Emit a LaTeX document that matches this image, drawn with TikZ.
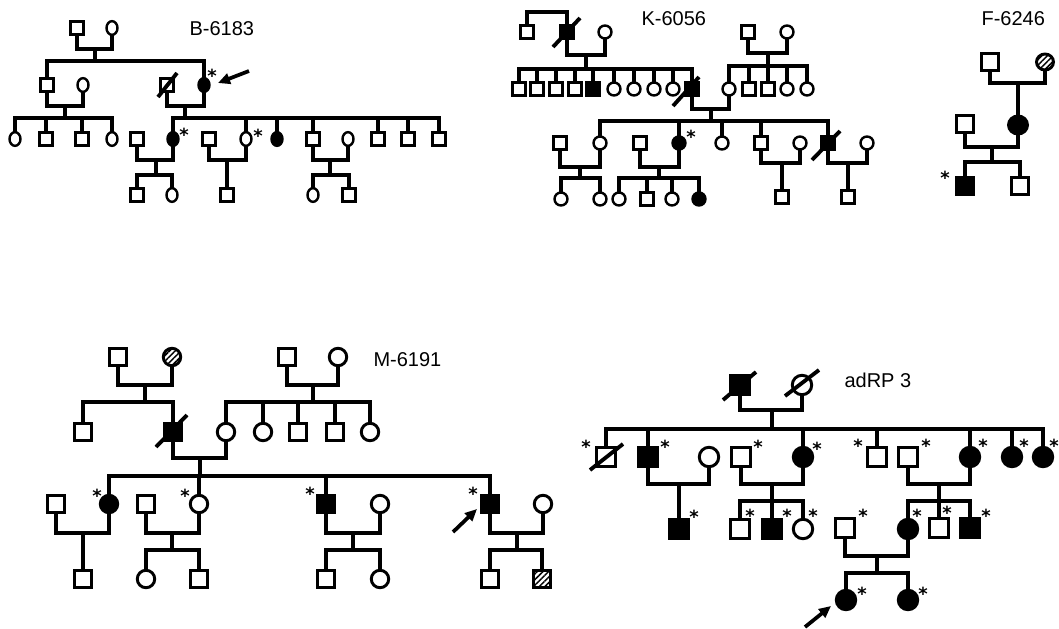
\documentclass[tikz,border=0pt]{standalone}
\usepackage{fontspec}
\setmainfont{Liberation Sans}
\newfontfamily\starfont{DejaVu Sans}
\usetikzlibrary{shapes.geometric,arrows.meta,patterns.meta}
\tikzset{
  ind/.style={draw, line width=\olw, inner sep=0pt, outer sep=0pt, fill=white},
  ma/.style={ind, rectangle, minimum width=\sqs, minimum height=\sqs},
  fe/.style={ind, ellipse, minimum width=\ciw, minimum height=\cih},
  aff/.style={fill=black},
  hat/.style={pattern={Lines[angle=45,distance=3pt,line width=1.1pt]}},
  star/.style={font=\starfont\bfseries\fontsize{13.5pt}{14pt}\selectfont, inner sep=0pt, yshift=-2.6pt},
  lab/.style={font=\fontsize{15pt}{18pt}\selectfont, inner sep=0pt, anchor=base west},
  arw/.style={line width=2.8pt, -{Triangle[length=9pt,width=8pt]}},
  dead/.style={line width=2.9pt},
  conn/.style={line width=2.3pt}
}
\def\olw{2pt}
\begin{document}
\begin{tikzpicture}[x=0.75pt,y=-0.75pt,every path/.append style={line width=2.3pt}]
\fill[white] (0,0) rectangle (1059,628);
\useasboundingbox (0,0) rectangle (1059,628);

% ================= B-6183 =================
\begin{scope}[conn]
\def\olw{1.8pt}
\def\sqs{9.5pt}\def\ciw{8.25pt}\def\cih{10.25pt}
\node[lab] (bl) at (188,35) {B-6183};
\node[ma] (b1) at (77,28) {};
\node[fe] (b2) at (112,28) {};
\node[ma] (b3) at (47,85) {};
\node[fe] (b5) at (83,85) {};
\node[ma] (b6) at (167,85) {};
\node[fe,aff] (b4) at (204,85) {};
\node[fe] (b7) at (15,139) {};
\node[ma] (b8) at (46,139) {};
\node[ma] (b9) at (82,139) {};
\node[fe] (b10) at (112,139) {};
\node[ma] (b18) at (137,139) {};
\node[fe,aff] (b11) at (173,139) {};
\node[ma] (b19) at (209,139) {};
\node[fe] (b12) at (246,139) {};
\node[fe,aff] (b13) at (277,139) {};
\node[ma] (b14) at (313,139) {};
\node[fe] (b20) at (348,139) {};
\node[ma] (b15) at (378,139) {};
\node[ma] (b16) at (408,139) {};
\node[ma] (b17) at (439,139) {};
\node[ma] (b21) at (137,195) {};
\node[fe] (b22) at (172,195) {};
\node[ma] (b23) at (227,195) {};
\node[fe] (b24) at (313,195) {};
\node[ma] (b25) at (349,195) {};
\coordinate (bm1) at (95,49); \coordinate (bs1) at (95,61);
\coordinate (bm2) at (65,106); \coordinate (bs2) at (65,118);
\coordinate (bm3) at (185,106); \coordinate (bs3) at (185,118);
\coordinate (bm4) at (156,160); \coordinate (bs4) at (156,175);
\coordinate (bm5) at (227,160);
\coordinate (bm6) at (330,160); \coordinate (bs6) at (330,175);
\draw[conn] (b1.south) |- (bm1) -| (b2.south); \draw[conn] (bm1) -- (bs1);
\draw[conn] (b3.north) |- (bs1) -| (b4.north);
\draw[conn] (b3.south) |- (bm2) -| (b5.south); \draw[conn] (bm2) -- (bs2);
\draw[conn] (b7.north) |- (bs2) -| (b10.north);
\foreach \k in {b8,b9} \draw[conn] (\k.north) -- (\k.north |- bs2);
\draw[conn] (b6.south) |- (bm3) -| (b4.south); \draw[conn] (bm3) -- (bs3);
\draw[conn] (b11.north) |- (bs3) -| (b17.north);
\foreach \k in {b12,b13,b14,b15,b16} \draw[conn] (\k.north) -- (\k.north |- bs3);
\draw[conn] (b18.south) |- (bm4) -| (b11.south); \draw[conn] (bm4) -- (bs4);
\draw[conn] (b21.north) |- (bs4) -| (b22.north);
\draw[conn] (b19.south) |- (bm5) -| (b12.south); \draw[conn] (bm5) -- (b23.north);
\draw[conn] (b14.south) |- (bm6) -| (b20.south); \draw[conn] (bm6) -- (bs6);
\draw[conn] (b24.north) |- (bs6) -| (b25.north);
\draw[dead] ([shift={(-9,12)}]b6.center) -- ([shift={(10,-12)}]b6.center);
\node[star] (bst1) at (212,72) {*};
\node[star] (bst2) at (184,131) {*};
\node[star] (bst3) at (258,132) {*};
\coordinate (ba0) at (249,71); \coordinate (ba1) at (218,83);
\draw[arw] (ba0) -- (ba1);
\end{scope}

% ================= K-6056 =================
\begin{scope}[conn]
\def\olw{1.8pt}
\def\sqs{9.5pt}\def\ciw{9.75pt}\def\cih{9.75pt}
\node[lab] (kl) at (640,25) {K-6056};
\node[ma] (k1) at (527,32) {};
\node[ma,aff] (k2) at (567,32) {};
\node[fe] (k3) at (605,32) {};
\node[ma] (k4) at (519,89) {};
\node[ma] (k5) at (537,89) {};
\node[ma] (k6) at (556,89) {};
\node[ma] (k7) at (575,89) {};
\node[ma,aff] (k8) at (593,89) {};
\node[fe] (k9) at (614,89) {};
\node[fe] (k10) at (634,89) {};
\node[fe] (k11) at (654,89) {};
\node[fe] (k12) at (673,89) {};
\node[ma,aff] (k13) at (692,89) {};
\node[ma] (k15) at (748,32) {};
\node[fe] (k16) at (787,32) {};
\node[fe] (k14) at (729,89) {};
\node[ma] (k17) at (749,89) {};
\node[ma] (k18) at (768,89) {};
\node[fe] (k19) at (787,89) {};
\node[fe] (k20) at (807,89) {};
\node[ma] (k28) at (560,143) {};
\node[fe] (k21) at (600,143) {};
\node[ma] (k29) at (640,143) {};
\node[fe,aff] (k22) at (679,143) {};
\node[fe] (k23) at (722,143) {};
\node[ma] (k24) at (761,143) {};
\node[fe] (k26) at (800,143) {};
\node[ma,aff] (k25) at (828,143) {};
\node[fe] (k27) at (867,143) {};
\node[fe] (k30) at (561,199) {};
\node[fe] (k31) at (600,199) {};
\node[fe] (k32) at (619,199) {};
\node[ma] (k33) at (647,199) {};
\node[fe] (k34) at (672,199) {};
\node[fe,aff] (k35) at (699,199) {};
\node[ma] (k36) at (782,197) {};
\node[ma] (k37) at (848,197) {};
\coordinate (kS0) at (567,12);
\coordinate (km1) at (586,55); \coordinate (ks1) at (586,69);
\coordinate (km2) at (768,53); \coordinate (ks2) at (768,66);
\coordinate (km3) at (711,109); \coordinate (ks3) at (711,121);
\coordinate (km4) at (580,167); \coordinate (ks4) at (580,178);
\coordinate (km5) at (659,167); \coordinate (ks5) at (659,178);
\coordinate (km6) at (782,163);
\coordinate (km7) at (848,163);
\draw[conn] (k1.north) |- (kS0) -- (k2.north);
\draw[conn] (k2.south) |- (km1) -| (k3.south); \draw[conn] (km1) -- (ks1);
\draw[conn] (k4.north) |- (ks1) -| (k13.north);
\foreach \k in {k5,k6,k7,k8,k9,k10,k11,k12} \draw[conn] (\k.north) -- (\k.north |- ks1);
\draw[conn] (k15.south) |- (km2) -| (k16.south); \draw[conn] (km2) -- (ks2);
\draw[conn] (k14.north) |- (ks2) -| (k20.north);
\foreach \k in {k17,k18,k19} \draw[conn] (\k.north) -- (\k.north |- ks2);
\draw[conn] (k13.south) |- (km3) -| (k14.south); \draw[conn] (km3) -- (ks3);
\draw[conn] (k21.north) |- (ks3) -| (k25.north);
\foreach \k in {k22,k23,k24} \draw[conn] (\k.north) -- (\k.north |- ks3);
\draw[conn] (k28.south) |- (km4) -| (k21.south); \draw[conn] (km4) -- (ks4);
\draw[conn] (k30.north) |- (ks4) -| (k31.north);
\draw[conn] (k29.south) |- (km5) -| (k22.south); \draw[conn] (km5) -- (ks5);
\draw[conn] (k32.north) |- (ks5) -| (k35.north);
\foreach \k in {k33,k34} \draw[conn] (\k.north) -- (\k.north |- ks5);
\draw[conn] (k24.south) |- (km6) -| (k26.south); \draw[conn] (km6) -- (k36.north);
\draw[conn] (k25.south) |- (km7) -| (k27.south); \draw[conn] (km7) -- (k37.north);
\draw[dead] ([shift={(-14,15)}]k2.center) -- ([shift={(13,-14)}]k2.center);
\draw[dead] ([shift={(-19,17)}]k13.center) -- ([shift={(7,-12)}]k13.center);
\draw[dead] ([shift={(-16,17)}]k25.center) -- ([shift={(12,-12)}]k25.center);
\node[star] (kst1) at (691,133) {*};
\end{scope}

% ================= F-6246 =================
\begin{scope}[conn]
\def\olw{2.2pt}
\def\sqs{12.4pt}\def\ciw{12.75pt}\def\cih{12pt}
\node[lab] (fl) at (980,25) {F-6246};
\node[ma] (f1) at (990,62) {};
\node[fe,hat] (f2) at (1045,62) {};
\node[fe,aff,minimum width=14.25pt,minimum height=13.5pt] (f3) at (1018,125) {};
\node[ma] (f4) at (965,124) {};
\node[ma,aff] (f5) at (965,186) {};
\node[ma] (f6) at (1020,186) {};
\coordinate (fm1) at (1018,83);
\coordinate (fm2) at (992,147); \coordinate (fs2) at (992,162);
\draw[conn] (f1.south) |- (fm1) -| (f2.south); \draw[conn] (fm1) -- (f3.north);
\draw[conn] (f4.south) |- (fm2) -| (f3.south); \draw[conn] (fm2) -- (fs2);
\draw[conn] (f5.north) |- (fs2) -| (f6.north);
\node[star] (fst1) at (945,174) {*};
\end{scope}

% ================= M-6191 =================
\begin{scope}[conn]
\def\olw{2.2pt}
\def\sqs{12.75pt}\def\ciw{13.1pt}\def\cih{13.1pt}
\node[lab] (ml) at (372,366) {M-6191};
\node[ma] (m1) at (118,357) {};
\node[fe,hat] (m2) at (172,357) {};
\node[ma] (m5) at (287,357) {};
\node[fe] (m6) at (338,357) {};
\node[ma] (m3) at (83,432) {};
\node[ma,aff] (m4) at (173,432) {};
\node[fe] (m7) at (226,432) {};
\node[fe] (m8) at (263,432) {};
\node[ma] (m9) at (298,432) {};
\node[ma] (m10) at (335,432) {};
\node[fe] (m11) at (370,432) {};
\node[ma] (m16) at (56,504) {};
\node[fe,aff] (m12) at (109,504) {};
\node[ma] (m17) at (146,504) {};
\node[fe] (m13) at (199,504) {};
\node[ma,aff] (m14) at (326,504) {};
\node[fe] (m18) at (380,504) {};
\node[ma,aff] (m15) at (490,504) {};
\node[fe] (m19) at (543,504) {};
\node[ma] (m20) at (83,579) {};
\node[fe] (m21) at (146,579) {};
\node[ma] (m22) at (199,579) {};
\node[ma] (m23) at (326,579) {};
\node[fe] (m24) at (380,579) {};
\node[ma] (m25) at (490,579) {};
\node[ma,hat] (m26) at (542,579) {};
\coordinate (mm1) at (145,385); \coordinate (ms1) at (145,402);
\coordinate (mm2) at (313,385); \coordinate (ms2) at (313,402);
\coordinate (mm3) at (200,458); \coordinate (ms3) at (200,476);
\coordinate (mm4) at (83,533);
\coordinate (mm5) at (172,533); \coordinate (ms5) at (172,550);
\coordinate (mm6) at (353,533); \coordinate (ms6) at (353,550);
\coordinate (mm7) at (517,533); \coordinate (ms7) at (517,550);
\draw[conn] (m1.south) |- (mm1) -| (m2.south); \draw[conn] (mm1) -- (ms1);
\draw[conn] (m3.north) |- (ms1) -| (m4.north);
\draw[conn] (m5.south) |- (mm2) -| (m6.south); \draw[conn] (mm2) -- (ms2);
\draw[conn] (m7.north) |- (ms2) -| (m11.north);
\foreach \k in {m8,m9,m10} \draw[conn] (\k.north) -- (\k.north |- ms2);
\draw[conn] (m4.south) |- (mm3) -| (m7.south); \draw[conn] (mm3) -- (ms3);
\draw[conn] (m12.north) |- (ms3) -| (m15.north);
\foreach \k in {m13,m14} \draw[conn] (\k.north) -- (\k.north |- ms3);
\draw[conn] (m16.south) |- (mm4) -| (m12.south); \draw[conn] (mm4) -- (m20.north);
\draw[conn] (m17.south) |- (mm5) -| (m13.south); \draw[conn] (mm5) -- (ms5);
\draw[conn] (m21.north) |- (ms5) -| (m22.north);
\draw[conn] (m14.south) |- (mm6) -| (m18.south); \draw[conn] (mm6) -- (ms6);
\draw[conn] (m23.north) |- (ms6) -| (m24.north);
\draw[conn] (m15.south) |- (mm7) -| (m19.south); \draw[conn] (mm7) -- (ms7);
\draw[conn] (m25.north) |- (ms7) -| (m26.north);
\draw[dead] ([shift={(-17,15)}]m4.center) -- ([shift={(14,-17)}]m4.center);
\node[star] (mst1) at (97,492) {*};
\node[star] (mst2) at (185,492) {*};
\node[star] (mst3) at (310,490) {*};
\node[star] (mst4) at (473,490) {*};
\coordinate (ma0) at (453,532); \coordinate (ma1) at (477,509);
\draw[arw] (ma0) -- (ma1);
\end{scope}

% ================= adRP 3 =================
\begin{scope}[conn]
\def\olw{2.2pt}
\def\sqs{14.25pt}\def\ciw{14.6pt}\def\cih{14.6pt}
\node[lab] (al) at (843,387) {adRP 3};
\node[ma,aff] (a1) at (740,385) {};
\node[fe] (a2) at (802,385) {};
\node[ma] (a3) at (606,457) {};
\node[ma,aff] (a4) at (648,457) {};
\node[fe] (a5) at (709,457) {};
\node[ma] (a6) at (741,457) {};
\node[fe,aff] (a7) at (803,457) {};
\node[ma] (a8) at (877,457) {};
\node[ma] (a9) at (908,457) {};
\node[fe,aff] (a10) at (970,457) {};
\node[fe,aff] (a11) at (1012,457) {};
\node[fe,aff] (a12) at (1043,457) {};
\node[ma,aff] (a13) at (679,529) {};
\node[ma] (a14) at (740,529) {};
\node[ma,aff] (a15) at (772,529) {};
\node[fe] (a16) at (803,529) {};
\node[ma] (a20) at (845,528) {};
\node[fe,aff] (a17) at (908,529) {};
\node[ma] (a18) at (939,528) {};
\node[ma,aff] (a19) at (970,528) {};
\node[fe,aff] (a21) at (846,600) {};
\node[fe,aff] (a22) at (908,600) {};
\coordinate (am1) at (772,410); \coordinate (as1) at (772,429);
\coordinate (am2) at (679,484);
\coordinate (am3) at (772,484); \coordinate (as3) at (772,501);
\coordinate (am4) at (939,484); \coordinate (as4) at (939,501);
\coordinate (am5) at (877,556); \coordinate (as5) at (877,573);
\draw[conn] (a1.south) |- (am1) -| (a2.south); \draw[conn] (am1) -- (as1);
\draw[conn] (a3.north) |- (as1) -| (a12.north);
\foreach \k in {a4,a7,a8,a10,a11} \draw[conn] (\k.north) -- (\k.north |- as1);
\draw[conn] (a4.south) |- (am2) -| (a5.south); \draw[conn] (am2) -- (a13.north);
\draw[conn] (a6.south) |- (am3) -| (a7.south); \draw[conn] (am3) -- (as3);
\draw[conn] (a14.north) |- (as3) -| (a16.north);
\draw[conn] (a15.north) -- (a15.north |- as3);
\draw[conn] (a9.south) |- (am4) -| (a10.south); \draw[conn] (am4) -- (as4);
\draw[conn] (a17.north) |- (as4) -| (a19.north);
\draw[conn] (a18.north) -- (a18.north |- as4);
\draw[conn] (a20.south) |- (am5) -| (a17.south); \draw[conn] (am5) -- (as5);
\draw[conn] (a21.north) |- (as5) -| (a22.north);
\draw[dead] ([shift={(-17,15)}]a1.center) -- ([shift={(16,-13)}]a1.center);
\draw[dead] ([shift={(-17,11)}]a2.center) -- ([shift={(17,-15)}]a2.center);
\draw[dead] ([shift={(-16,13)}]a3.center) -- ([shift={(17,-13)}]a3.center);
\node[star] (ast1) at (586,443) {*};
\node[star] (ast2) at (665,443) {*};
\node[star] (ast3) at (758,443) {*};
\node[star] (ast4) at (817,445) {*};
\node[star] (ast5) at (858,442) {*};
\node[star] (ast6) at (926,442) {*};
\node[star] (ast7) at (983,442) {*};
\node[star] (ast8) at (1024,442) {*};
\node[star] (ast9) at (1054,442) {*};
\node[star] (ast10) at (694,513) {*};
\node[star] (ast11) at (750,512) {*};
\node[star] (ast12) at (787,512) {*};
\node[star] (ast13) at (813,512) {*};
\node[star] (ast14) at (863,512) {*};
\node[star] (ast15) at (917,512) {*};
\node[star] (ast16) at (947,509) {*};
\node[star] (ast17) at (986,512) {*};
\node[star] (ast18) at (862,590) {*};
\node[star] (ast19) at (923,590) {*};
\coordinate (aa0) at (805,627); \coordinate (aa1) at (831,606);
\draw[arw] (aa0) -- (aa1);
\end{scope}
\end{tikzpicture}
\end{document}
